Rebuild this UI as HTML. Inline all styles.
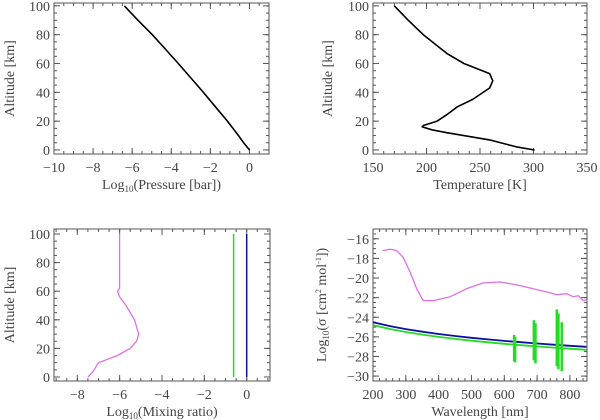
<!DOCTYPE html>
<html><head><meta charset="utf-8"><style>
body{margin:0;background:#fff}
svg{display:block}
text{font-family:"Liberation Serif",serif;fill:#444;font-size:14px}
</style></head><body>
<svg id="fig" width="600" height="420" viewBox="0 0 600 420"></svg>
<script>
// Panel 1 data: pressure profile
const p1Alt=[0,5,10,20,30,40,50,60,70,80,90,100];
const p1LogP=[0,-0.3,-0.56,-1.13,-1.75,-2.36,-3.0,-3.64,-4.3,-4.97,-5.7,-6.4];
// Panel 2 data: temperature
const p2Alt=[0,2,7,12,14,16,17,20,25,30,35,43,48,53,60,67,80,90,100];
const p2Temp=[301,285,259,219,205,196,197,210,220,229,243,259,262,259,235,219,197,183,170];
// Panel 3 data: mixing ratios
const p3Alt=[0,4,10,15,20,25,30,40,50,56,60,62,66,100];
const p3Pink=[-7.5,-7.25,-7.0,-6.1,-5.5,-5.2,-5.1,-5.3,-5.7,-6.0,-6.1,-6.0,-6.0,-6.0];
const p3Green=-0.62, p3Blue=0.0;
// Panel 4 data: cross sections
const p4PinkWl=[230,252,272,292,313,333,353,384,435,485,536,587,638,688,739,760,790,810,825,841,851];
const p4PinkVal=[-17.2,-17.05,-17.2,-17.9,-19.4,-21.1,-22.3,-22.3,-21.9,-21.1,-20.5,-20.4,-20.7,-21.1,-21.5,-21.7,-21.6,-21.9,-21.8,-22.3,-22.2];
const p4RayWl=[200,250,300,350,400,450,500,550,600,650,700,750,800,850];
const blueRef=-24.5, greenRef=-24.8;
const bandWl=[630,633,690,695,760,765,775];
const bandTop=[-25.8,-26.0,-24.3,-24.6,-23.2,-23.6,-24.5];
const bandBot=[-28.5,-28.6,-28.4,-28.7,-29.0,-29.3,-29.5];

const NS="http://www.w3.org/2000/svg";
const svg=document.getElementById('fig');
function el(t,a,parent){const e=document.createElementNS(NS,t);for(const k in a)e.setAttribute(k,a[k]);(parent||svg).appendChild(e);return e;}

function panel(name,box,xr,yr,xMaj,xMin,yMaj,yMin,xLabels,yLabels,xTitle,yTitle,yTitleX){
  const g=el('g',{});
  
  
  const sx=v=>box.l+(v-xr[0])/(xr[1]-xr[0])*(box.r-box.l);
  const sy=v=>box.b-(v-yr[0])/(yr[1]-yr[0])*(box.b-box.t);
  const ax=el('g',{stroke:'#555','stroke-width':1,fill:'none'},g);
  
  
  el('rect',{x:box.l,y:box.t,width:box.r-box.l,height:box.b-box.t},ax);
  const ticks=(vals,len,isX)=>{for(const v of vals){
    if(isX){const x=sx(v);if(x<box.l-0.1||x>box.r+0.1)continue;
      el('line',{x1:x,x2:x,y1:box.b,y2:box.b-len},ax);el('line',{x1:x,x2:x,y1:box.t,y2:box.t+len},ax);}
    else{const y=sy(v);if(y<box.t-0.1||y>box.b+0.1)continue;
      el('line',{y1:y,y2:y,x1:box.l,x2:box.l+len},ax);el('line',{y1:y,y2:y,x1:box.r,x2:box.r-len},ax);}}};
  ticks(xMaj,6,true);ticks(xMin,3,true);ticks(yMaj,6,false);ticks(yMin,3,false);
  for(const v of xLabels){const t=el('text',{x:sx(v),y:box.b+18,'text-anchor':'middle'},g);t.textContent=(v<0?'\u2212'+(-v):v);
    }
  for(const v of yLabels){const t=el('text',{x:box.l-4,y:sy(v)+5,'text-anchor':'end'},g);t.textContent=(v<0?'\u2212'+(-v):v);
    }
  const xt=el('text',{x:(box.l+box.r)/2,y:box.b+35,'text-anchor':'middle'},g);xt.innerHTML=xTitle;
  
  const yc=(box.t+box.b)/2;
  const yt=el('text',{x:yTitleX,y:yc,'text-anchor':'middle',transform:`rotate(-90 ${yTitleX} ${yc})`},g);yt.innerHTML=yTitle;
  
  return {g,sx,sy};
}
function range(a,b,s){const r=[];for(let v=a;v<=b+1e-9;v+=s)r.push(+v.toFixed(3));return r;}
function line(P,xs,ys,color,w,name){
  const d=xs.map((x,i)=>(i?'L':'M')+P.sx(x).toFixed(1)+' '+P.sy(ys[i]).toFixed(1)).join(' ');
  const p=el('path',{d:d,stroke:color,'stroke-width':w,fill:'none','stroke-linejoin':'round'},P.g);
  
  
  return p;
}
const sub10='Log<tspan font-size="9" dy="3">10</tspan><tspan dy="-3">';

const P1=panel('pressure-panel',{l:54,r:269,t:3,b:154},[-10,1],[-2.8,102],range(-10,0,2),range(-10,1,0.5),range(0,100,20),range(0,100,5),range(-10,0,2),range(0,100,20),sub10+'(Pressure [bar])</tspan>','Altitude [km]',14);
line(P1,p1LogP,p1Alt,'#000',1.6,'pressure-line');

const P2=panel('temperature-panel',{l:373,r:587,t:3,b:154},[150,350],[-2.8,102],range(150,350,50),range(150,350,10),range(0,100,20),range(0,100,5),range(150,350,50),range(0,100,20),'Temperature [K]','Altitude [km]',332);
line(P2,p2Temp,p2Alt,'#000',1.6,'temperature-line');

const P3=panel('mixing-ratio-panel',{l:54,r:270,t:229,b:381},[-9.1,1.1],[-2.8,103.5],range(-8,0,2),range(-9,1,0.5),range(0,100,20),range(0,100,5),range(-8,0,2),range(0,100,20),sub10+'(Mixing ratio)</tspan>','Altitude [km]',14);
line(P3,p3Pink,p3Alt,'#e070e0',1.3,'mixing-pink-line');
line(P3,[p3Green,p3Green],[0,100],'#22dd22',1.5,'mixing-green-line');
line(P3,[p3Blue,p3Blue],[0,100],'#1010a0',1.5,'mixing-blue-line');

const P4=panel('cross-section-panel',{l:373,r:587,t:229,b:381},[200,852],[-30.5,-15],range(200,800,100),range(200,840,20),range(-30,-16,2),range(-30.5,-15,0.5),range(200,800,100),range(-30,-16,2),'Wavelength [nm]',sub10+'(σ [cm<tspan font-size="8" dy="-5">2</tspan><tspan dy="5"> mol</tspan><tspan font-size="8" dy="-5">-1</tspan><tspan dy="5">])</tspan></tspan>',326);
line(P4,p4PinkWl,p4PinkVal,'#e070e0',1.3,'cross-section-pink-line');
line(P4,p4RayWl,p4RayWl.map(w=>greenRef-4*Math.log10(w/200)),'#22dd22',1.8,'rayleigh-green-line');
line(P4,p4RayWl,p4RayWl.map(w=>blueRef-4*Math.log10(w/200)),'#1010a0',1.8,'rayleigh-blue-line');
bandWl.forEach((w,i)=>{
  const p=el('path',{d:`M${P4.sx(w)} ${P4.sy(bandTop[i])} L${P4.sx(w)} ${P4.sy(bandBot[i])}`,stroke:'#22dd22','stroke-width':2.5,fill:'none'},P4.g);
  
  
});
</script>
</body></html>
